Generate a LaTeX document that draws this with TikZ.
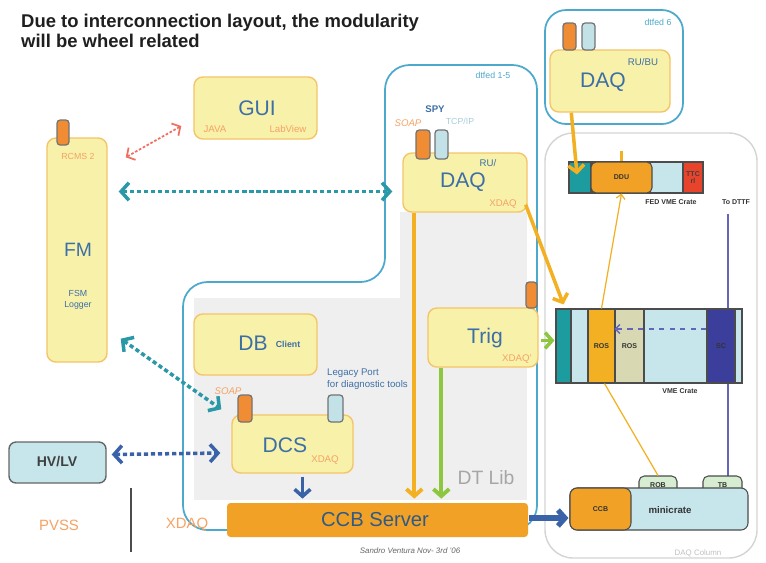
\documentclass[tikz,border=0pt]{standalone}
\usepackage{fontspec}
\setmainfont{Liberation Sans}
\usetikzlibrary{positioning,arrows.meta,calc,fit}
\definecolor{boxfill}{HTML}{F8F1AA}
\definecolor{boxline}{HTML}{F4C469}
\definecolor{portor}{HTML}{F08C34}
\definecolor{portbl}{HTML}{C3E2E8}
\definecolor{grpline}{HTML}{4DA9CB}
\definecolor{labblue}{HTML}{3C6FA6}
\definecolor{laborange}{HTML}{F5A264}
\definecolor{dotteal}{HTML}{2B98A8}
\definecolor{dotblue}{HTML}{3A62A8}
\definecolor{dotred}{HTML}{EF7062}
\definecolor{amber}{HTML}{F2B022}
\definecolor{leaf}{HTML}{8DC63F}
\definecolor{ccbor}{HTML}{F1A226}
\definecolor{vmeteal}{HTML}{1C9C9E}
\definecolor{pale}{HTML}{C6E6EC}
\definecolor{rosbeige}{HTML}{D8D8B2}
\definecolor{scblue}{HTML}{3B3E9A}
\definecolor{ttcred}{HTML}{E8442C}
\definecolor{robgreen}{HTML}{D6EDD2}
\definecolor{panel}{HTML}{EFEFEF}
\definecolor{colline}{HTML}{D4D4D4}
\definecolor{dttf}{HTML}{6464BC}

\begin{document}
\begin{tikzpicture}[x=0.02cm,y=-0.02cm,
    modbox/.style={draw=boxline,fill=boxfill,rounded corners=5pt,line width=0.8pt,inner sep=0pt},
    portbox/.style={draw=black!55,rounded corners=1.8pt,line width=0.7pt,inner sep=0pt},
    grpbox/.style={draw=grpline,rounded corners=12pt,line width=1pt,inner sep=0pt},
    cell/.style={draw=black!70,line width=0.6pt,inner sep=0pt},
    bigtxt/.style={text=labblue,font=\fontsize{12}{12}\selectfont},
    smalltxt/.style={text=labblue,font=\fontsize{5.5}{6.5}\selectfont},
    orgtxt/.style={text=laborange,font=\fontsize{5.5}{6}\selectfont},
    cratetxt/.style={text=black!80,font=\fontsize{4}{4.5}\selectfont\bfseries},
    barb/.style={-{Straight Barb[length=4pt,width=9pt]}},
    thinbarb/.style={-{Straight Barb[length=2.5pt,width=5pt]}},
    dotlink/.style={line width=2pt,dash pattern=on 2.4pt off 1.6pt,
      {Straight Barb[length=4.5pt,width=10pt]}-{Straight Barb[length=4.5pt,width=10pt]}},
    redlink/.style={dotred,line width=1pt,dash pattern=on 1.5pt off 1pt,
      {Straight Barb[length=3.5pt,width=8pt]}-{Straight Barb[length=3.5pt,width=8pt]}},
  ]
  \useasboundingbox (0,0) rectangle (766,562);

  % heading
  \node[anchor=north west,align=left,text=black!88,
        font=\fontsize{10.5}{11.5}\selectfont\bfseries] (title) at (15,8)
    {Due to interconnection layout, the modularity\\will be wheel related};

  % groups
  \node[draw=colline,rounded corners=16pt,line width=0.8pt,inner sep=0pt,
        fit={(545,133) (757,558)}] (daqcol) {};
  \node[text=black!25,font=\fontsize{4.5}{5}\selectfont] (colname) at (698,553) {DAQ Column};
  \node[grpbox,fit={(545,10) (683,124)}] (grp6) {};
  \node[text=grpline,font=\fontsize{5}{6}\selectfont] (grp6name) at (658,22) {dtfed 6};

  \fill[panel] (194,298) rectangle (527,500);
  \fill[panel] (400,212) rectangle (527,298);
  \draw[grpbox,rounded corners=14pt] (385,282) -- (385,65) -- (537,65) -- (537,530)
    -- (183,530) -- (183,282) -- cycle;
  \node[text=grpline,font=\fontsize{5}{6}\selectfont] (grp15name) at (493,75) {dtfed 1-5};
  \node[text=black!35,font=\fontsize{11}{11}\selectfont] (dtlib) at (486,478) {DT Lib};

  % DAQ of dtfed 6
  \node[modbox,fit={(550,50) (670,112)}] (daq6) {};
  \node[portbox,fill=portor,fit={(563,23) (576,50)}] (daq6soap) {};
  \node[portbox,fill=portbl,fit={(582,23) (595,50)}] (daq6tcp) {};
  \node[bigtxt] at (603,82) {DAQ};
  \node[smalltxt] at (643,62) {RU/BU};

  % DAQ of dtfed 1-5
  \node[modbox,fit={(403,153) (527,212)}] (daq) {};
  \node[portbox,fill=portor,fit={(416,130) (430,159)}] (daqsoap) {};
  \node[portbox,fill=portbl,fit={(435,130) (448,159)}] (daqtcp) {};
  \node[orgtxt,font=\fontsize{5.5}{6}\selectfont\itshape] at (408,123) {SOAP};
  \node[smalltxt,font=\fontsize{5.5}{6}\selectfont\bfseries] at (435,109) {SPY};
  \node[text=portbl!80!labblue,font=\fontsize{5}{6}\selectfont] at (460,121) {TCP/IP};
  \node[bigtxt] at (463,182) {DAQ};
  \node[smalltxt] at (488,163) {RU/};
  \node[orgtxt] at (503,204) {XDAQ};

  % GUI and FM
  \node[modbox,fit={(194,77) (317,139)}] (gui) {};
  \node[bigtxt] at (257,108) {GUI};
  \node[orgtxt] at (215,129) {JAVA};
  \node[orgtxt] at (288,129) {LabView};

  \node[modbox,fit={(47,138) (107,362)}] (fm) {};
  \node[portbox,fill=portor,fit={(57,120) (69,145)}] (fmport) {};
  \node[orgtxt,font=\fontsize{5}{6}\selectfont] at (78,156) {RCMS 2};
  \node[bigtxt,font=\fontsize{11}{11}\selectfont] at (78,250) {FM};
  \node[smalltxt,font=\fontsize{5}{6.5}\selectfont,align=center] at (78,300) {FSM\\Logger};

  % DB, DCS, Trig
  \node[modbox,fit={(194,314) (317,375)}] (db) {};
  \node[bigtxt] at (253,343) {DB};
  \node[smalltxt,font=\fontsize{5}{6}\selectfont\bfseries] at (288,344) {Client};
  \node[smalltxt,anchor=west,align=left] (legacy) at (321,379) {Legacy Port\\for diagnostic tools};

  \node[modbox,fit={(232,415) (353,473)}] (dcs) {};
  \node[portbox,fill=portor,fit={(238,395) (252,422)}] (dcssoap) {};
  \node[portbox,fill=portbl,fit={(328,395) (343,422)}] (dcslegacy) {};
  \node[orgtxt,font=\fontsize{5.5}{6}\selectfont\itshape] at (228,391) {SOAP};
  \node[bigtxt] at (285,445) {DCS};
  \node[orgtxt] at (325,460) {XDAQ};

  \node[modbox,fit={(428,308) (538,367)}] (trig) {};
  \node[portbox,fill=portor,fit={(526,282) (537,308)}] (trigport) {};
  \node[bigtxt] at (485,338) {Trig};
  \node[orgtxt] at (517,359) {XDAQ'};

  % CCB server, HV/LV, bottom labels
  \node[fill=ccbor,rounded corners=2pt,inner sep=0pt,fit={(227,503) (528,537)}] (ccbsrv) {};
  \node[text=labblue!80!black,font=\fontsize{11.5}{12}\selectfont] at (375,520) {CCB Server};
  \node[draw=black!60,fill=pale,rounded corners=4pt,line width=0.8pt,inner sep=0pt,
        fit={(9,442) (106,483)}] (hvlv) {};
  \node[text=black!75,font=\fontsize{8}{8}\selectfont\bfseries] at (57,462) {HV/LV};
  \node[text=laborange,font=\fontsize{8.5}{9}\selectfont] (pvss) at (59,525) {PVSS};
  \node[text=laborange,font=\fontsize{8.5}{9}\selectfont] (xdaqlab) at (187,525) {XDAQ};
  \draw[black!70,line width=1pt] (131,488) -- (131,552);
  \node[text=black!60,font=\fontsize{4.5}{5}\selectfont\itshape] (sig) at (410,551) {Sandro Ventura Nov- 3rd '06};

  % DAQ column: trigger link drawn first, crates on top
  \node[cratetxt,font=\fontsize{4}{4.5}\selectfont\bfseries] (todttf) at (736,202) {To DTTF};
  \draw[dttf,line width=0.8pt] ([shift={(-8,3)}]todttf.south) -- ([shift={(-8,0)}]todttf.south |- 0,476);

  % FED VME crate
  \node[cell,fill=pale,fit={(569,162) (703,193)}] (fed) {};
  \node[cell,fill=vmeteal,fit={(569,162) (591,193)}] (fedteal) {};
  \node[cell,fill=ccbor,rounded corners=3pt,fit={(591,162) (652,193)}] (ddu) {};
  \node[cell,fill=ttcred,fit={(683,162) (703,193)}] (ttc) {};
  \node[cratetxt] at (ddu) {DDU};
  \node[cratetxt,align=center,font=\fontsize{4}{4.5}\selectfont\bfseries,text=black!75] at (ttc) {TTC\\rl};
  \node[cratetxt] at (671,202) {FED VME Crate};
  \draw[amber,line width=2pt] (ddu.north) -- ++(0,-10);

  % VME crate
  \node[cell,fill=pale,fit={(556,309) (742,383)}] (vme) {};
  \node[cell,fill=vmeteal,fit={(556,309) (571,383)}] (vmeteal) {};
  \node[cell,fill=amber,fit={(588,309) (615,383)}] (ros1) {};
  \node[cell,fill=rosbeige,fit={(615,309) (644,383)}] (ros2) {};
  \node[cell,fill=scblue,fit={(707,309) (735,383)}] (sc) {};
  \node[cratetxt] at (ros1) {ROS};
  \node[cratetxt] at (ros2) {ROS};
  \node[cratetxt,text=black!80] at (sc) {SC};
  \node[cratetxt] at (680,391) {VME Crate};
  \draw[dttf,line width=0.8pt,dashed,thinbarb] ([shift={(0,-17)}]sc.west) -- ([shift={(0,-17)}]ros2.west);

  % minicrate
  \node[cell,fill=robgreen,rounded corners=3pt,fit={(639,476) (677,495)}] (rob) {};
  \node[cell,fill=robgreen,rounded corners=3pt,fit={(703,476) (742,495)}] (tb) {};
  \node[cell,fill=pale,rounded corners=4pt,fit={(570,488) (748,530)}] (mini) {};
  \node[cell,fill=ccbor,rounded corners=4pt,fit={(570,488) (631,530)}] (ccb) {};
  \node[cratetxt] at (rob) {ROB};
  \node[cratetxt] at (tb) {TB};
  \node[cratetxt] at (ccb) {CCB};
  \node[cratetxt,font=\fontsize{5.5}{6}\selectfont\bfseries] at (670,510) {minicrate};

  % read-out and slow links
  \draw[amber,line width=0.7pt,thinbarb] (ros1.north) -- (ddu.south);
  \draw[amber,line width=0.7pt] (rob.north) -- ([shift={(3,0)}]ros1.south);

  % connectors
  \draw[redlink] ([shift={(-12,18)}]gui.west) -- ([shift={(18,20)}]fm.north east);
  \draw[dotlink,dotteal] ([shift={(11,9)}]fm.east |- daq.west) -- ([shift={(-10,9)}]daq.west);
  \draw[dotlink,dotteal] ([shift={(13,-24)}]fm.south east) -- ([shift={(-10,-5)}]dcs.north west);
  \draw[dotlink,dotblue] ([shift={(5,-8)}]hvlv.east) -- ([shift={(-11,9)}]dcs.west);

  \draw[amber,line width=2pt,barb] ([shift={(22,0)}]daq6.south west) -- ([shift={(-3,-3)}]fedteal.center);
  \draw[amber,line width=2pt,barb] ([shift={(-2,-8)}]daq.south east) -- ([shift={(8,-4)}]vme.north west);
  \draw[amber,line width=2.2pt,barb] ([shift={(12,0)}]daq.south west) -- ([shift={(12,-4)}]daq.south west |- ccbsrv.north);
  \draw[leaf,line width=2.2pt,barb] ([shift={(14,0)}]trig.south west) -- ([shift={(14,-4)}]trig.south west |- ccbsrv.north);
  \draw[leaf,line width=2pt,barb] ([shift={(2,3)}]trig.east) -- ([shift={(-1,3)}]trig.east -| vme.west);
  \draw[dotblue,line width=2pt,barb] ([shift={(10,3)}]dcs.south) -- ([shift={(10,-4)}]dcs.south |- ccbsrv.north);
  \draw[dotblue,line width=3pt,barb] ([shift={(1,-2)}]ccbsrv.east) -- ([shift={(-1,-2)}]ccbsrv.east -| ccb.west);
\end{tikzpicture}
\end{document}
